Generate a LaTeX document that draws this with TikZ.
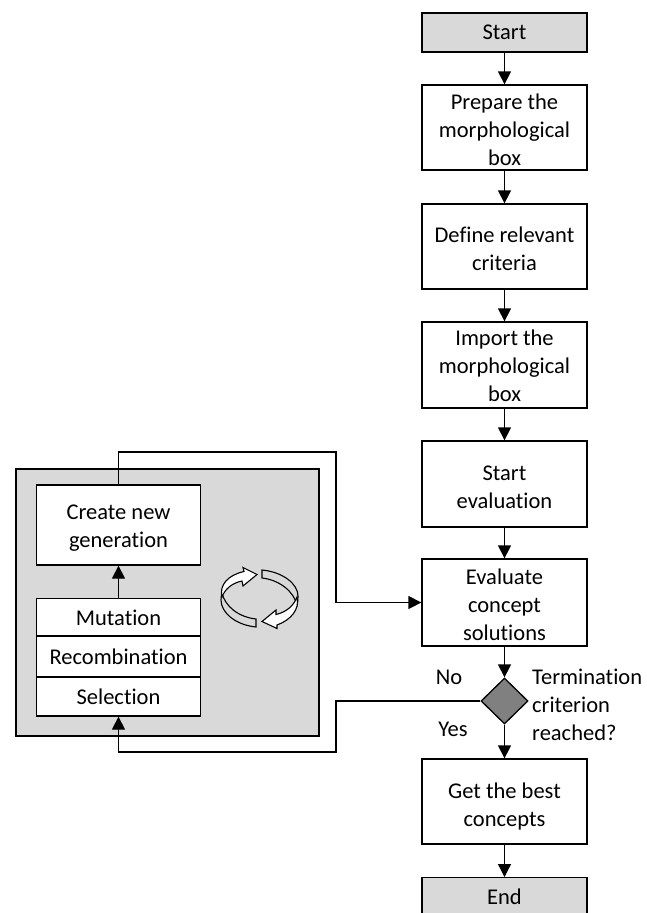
\documentclass[tikz,border=0pt]{standalone}
\usepackage{fontspec}
\setmainfont[Ligatures=NoCommon]{Carlito}
\usetikzlibrary{arrows.meta,shapes.geometric}
\newcommand{\lowerby}[1]{\rule{0pt}{\dimexpr15.5pt+#1pt+#1pt\relax}}
\tikzset{
  x=1pt,y=-1pt,
  every node/.style={font=\fontsize{22.5}{28}\selectfont,text=black,inner sep=0pt},
  pbox/.style={draw=black,line width=1.3pt,fill=white,minimum width=165pt,align=center,anchor=center},
  term/.style={pbox,fill=termgray},
  conn/.style={draw=black,line width=1.3pt,-{Triangle[length=13pt,width=13pt]}},
  lbl/.style={align=left,anchor=west}
}
\definecolor{termgray}{gray}{0.85}
\definecolor{diagray}{gray}{0.5}
\begin{document}
\begin{tikzpicture}
\useasboundingbox (0,0) rectangle (647,913);
\begin{scope}
\clip (0,0) rectangle (647,913);
\node[term,minimum height=39pt] (start) at (504.5,32.5) {Start};
\node[pbox,minimum height=85pt] (prep) at (504.5,127.5) {\lowerby{2}Prepare the\\morphological\\box};
\node[pbox,minimum height=85pt] (def) at (504.5,246.5) {\lowerby{2.5}Define relevant\\criteria};
\node[pbox,minimum height=86pt] (imp) at (504.5,365) {\lowerby{1}Import the\\morphological\\box};
\node[pbox,minimum height=86pt] (sev) at (504.5,484) {\lowerby{3}Start\\evaluation};
\node[pbox,minimum height=87pt] (eval) at (504.5,602.5) {\lowerby{2.5}Evaluate\\concept\\solutions};
\node[diamond,draw=black,line width=1.3pt,fill=diagray,minimum width=47pt,minimum height=46pt,aspect=1] (dec) at (504.5,701) {};
\node[pbox,minimum height=85pt] (best) at (504.5,801.5) {\lowerby{5}Get the best\\concepts};
\node[term,minimum height=39pt,anchor=north] (endn) at (504.5,877) {End};
\end{scope}
\node[lbl] (term) at (532,705) {Termination\\criterion\\reached?};
\node (no) at (449,677) {No};
\node (yes) at (453,729) {Yes};

\node[draw=black,line width=1.3pt,fill=termgray,minimum width=303pt,minimum height=267pt] (panel) at (167.5,602.5) {};
\node[pbox,minimum width=164pt,minimum height=80pt] (create) at (118.5,525) {\lowerby{3}Create new\\generation};
\node[pbox,minimum width=164pt,minimum height=38pt] (mut) at (118.5,617.5) {Mutation};
\node[pbox,minimum width=164pt,minimum height=41pt] (rec) at (118.5,656.5) {Recombination};
\node[pbox,minimum width=164pt,minimum height=39pt] (sel) at (118.5,696.5) {Selection};

\coordinate (a1) at (118.5,452);
\coordinate (a2) at (336,452);
\coordinate (a3) at (336,602.5);
\coordinate (b1) at (336,701);
\coordinate (b2) at (336,752);
\coordinate (b3) at (118.5,752);

\draw[conn] (start) -- (prep);
\draw[conn] (prep) -- (def);
\draw[conn] (def) -- (imp);
\draw[conn] (imp) -- (sev);
\draw[conn] (sev) -- (eval);
\draw[conn] (eval) -- (dec);
\draw[conn] (dec) -- (best);
\draw[conn] (best) -- (endn);
\draw[conn] (mut) -- (create);
\draw[conn] (create.north) -- (a1) -- (a2) -- (a3) -- (eval.west);
\draw[conn] (dec.west) -- (b1) -- (b2) -- (b3) -- (sel.south);

% cycle icon
\begin{scope}[line width=1.1pt,draw=black,line join=miter]
  \filldraw[fill=termgray] (262,570) .. controls (283,572) and (298,584) .. (298,596)
     .. controls (298,600) and (297.5,603) .. (297,605)
     .. controls (294,592) and (280,580) .. (262,578) -- cycle;
  \filldraw[fill=termgray] (256,627) .. controls (236,625) and (221,613) .. (221,600)
     .. controls (221,597) and (221.5,595) .. (222,593)
     .. controls (225,606) and (238,617) .. (256,619) -- cycle;
  \filldraw[fill=white] (222,597) .. controls (219,585) and (228,575) .. (244,571.5)
     -- (243,567.5) -- (257,574.5) -- (243,586) -- (242,581)
     .. controls (232,583) and (225,589) .. (222,597) -- cycle;
  \filldraw[fill=white] (297,597) .. controls (300,609) and (291,620) .. (277,625)
     -- (277,628.5) -- (262,621.5) -- (276,610) -- (276,614.5)
     .. controls (287,612) and (294,605) .. (297,597) -- cycle;
\end{scope}
\end{tikzpicture}
\end{document}
